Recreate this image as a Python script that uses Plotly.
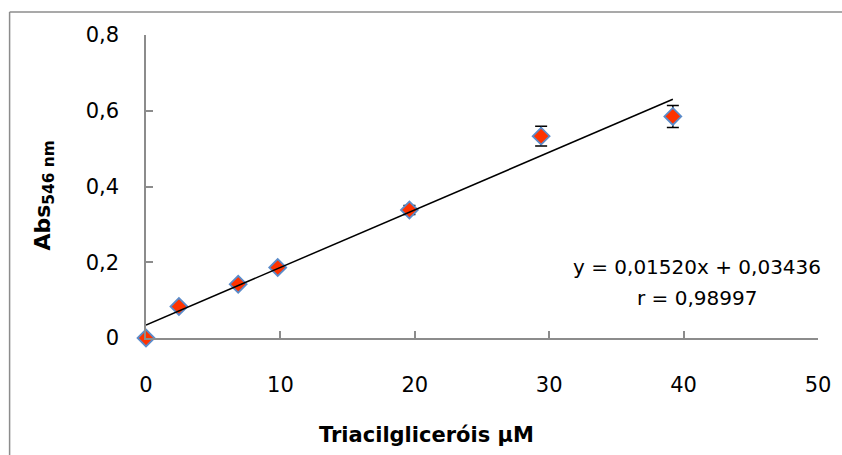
import plotly.graph_objects as go

# Data
conc = [0, 2.45, 6.86, 9.8, 19.6, 29.4, 39.2]
absorb = [0.0, 0.083, 0.142, 0.186, 0.338, 0.533, 0.585]
err = [0.004, 0.005, 0.005, 0.005, 0.012, 0.026, 0.029]
slope = 0.01520
intercept = 0.03436
r_value = 0.98997
x_ticks = [0, 10, 20, 30, 40, 50]
y_ticks = [0, 0.2, 0.4, 0.6, 0.8]
y_tick_text = ["0", "0,2", "0,4", "0,6", "0,8"]

fit_x = [conc[0], conc[-1]]
fit_y = [slope * v + intercept for v in fit_x]

W, H = 842, 455
ml, mr, mt, mb = 145.5, 24, 35, 117
pw, ph = W - ml - mr, H - mt - mb

def px(xp):
    return (xp - ml) / pw

def py(yp):
    return (H - mb - yp) / ph

fig = go.Figure()
fig.add_trace(go.Scatter(
    x=conc, y=absorb, mode="markers",
    marker=dict(symbol="diamond", size=13, color="#FF3300",
                line=dict(color="#5B8BC9", width=1.8)),
    error_y=dict(type="data", array=err, visible=True, color="black",
                 thickness=1.5, width=6),
    showlegend=False, cliponaxis=False,
))
fig.add_trace(go.Scatter(
    x=fit_x, y=fit_y, mode="lines",
    line=dict(color="black", width=1.5), showlegend=False,
))

axis_common = dict(
    showgrid=False, zeroline=False, showline=True, linecolor="#8C8C8C",
    linewidth=1.5, ticks="inside", ticklen=7, tickcolor="#8C8C8C",
    tickwidth=1.5,
    tickfont=dict(family="DejaVu Sans", size=21, color="black"),
)
fig.update_xaxes(range=[0, 50], tickvals=x_ticks, ticktext=[str(v) for v in x_ticks],
                 ticklabelstandoff=27, **axis_common)
fig.update_yaxes(range=[0, 0.8], tickvals=y_ticks, ticktext=y_tick_text,
                 ticklabelstandoff=21, **axis_common)

fig.add_annotation(
    x=41.0, y=0.1875, xref="x", yref="y", xanchor="center", yanchor="middle",
    text=f"y = {slope:.5f}x + {intercept:.5f}".replace(".", ","),
    showarrow=False, font=dict(family="DejaVu Sans", size=20, color="black"),
)
fig.add_annotation(
    x=41.0, y=0.106, xref="x", yref="y", xanchor="center", yanchor="middle",
    text=f"r = {r_value:.5f}".replace(".", ","),
    showarrow=False, font=dict(family="DejaVu Sans", size=20, color="black"),
)
fig.add_annotation(
    x=px(426), y=py(435), xref="paper", yref="paper", xanchor="center", yanchor="middle",
    text="<b>Triacilgliceróis µM</b>", showarrow=False,
    font=dict(family="DejaVu Sans", size=21, color="black"),
)
fig.add_annotation(
    x=px(43), y=py(196), xref="paper", yref="paper", xanchor="center", yanchor="middle",
    text="<b>Abs<sub>546 nm</sub></b>", showarrow=False, textangle=-90,
    font=dict(family="DejaVu Sans", size=22, color="black"),
)
# chart-area frame (left and top edges visible in the reference)
frame = dict(color="#8C8C8C", width=1.5)
fig.add_shape(type="line", xref="paper", yref="paper",
              x0=px(9), x1=px(9), y0=py(H + 5), y1=py(12), line=frame, layer="below")
fig.add_shape(type="line", xref="paper", yref="paper",
              x0=px(9), x1=px(W + 5), y0=py(12), y1=py(12), line=frame, layer="below")

fig.update_layout(
    width=W, height=H, margin=dict(l=ml, r=mr, t=mt, b=mb),
    paper_bgcolor="white", plot_bgcolor="white",
)
fig.write_html("out.html", config={"displayModeBar": False})
